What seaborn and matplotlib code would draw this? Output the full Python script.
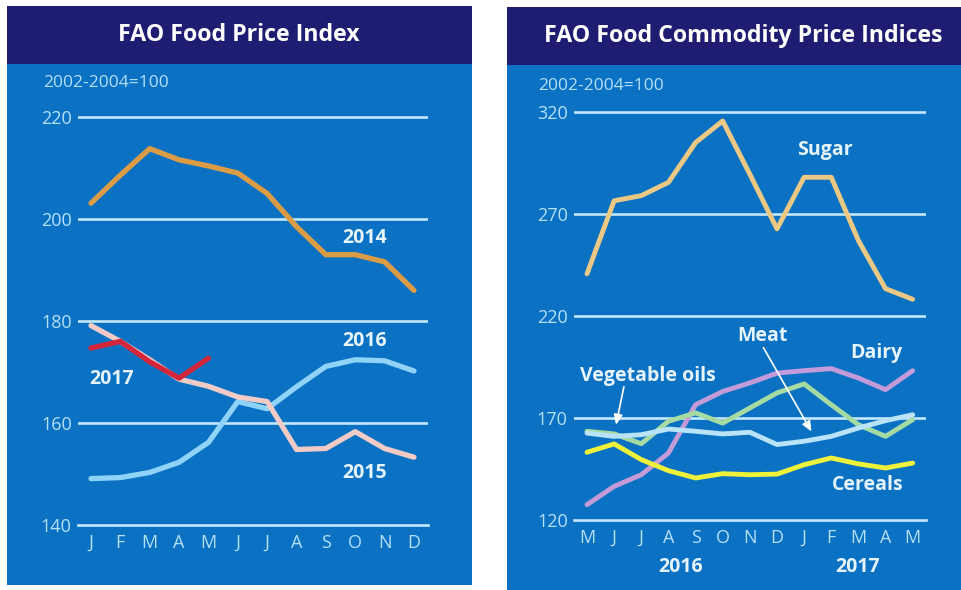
import matplotlib
matplotlib.use("Agg")
import matplotlib.pyplot as plt
from matplotlib.patches import Rectangle
import numpy as np
import pandas as pd
import seaborn as sns

# ---------------- data ----------------
months_left = ["J", "F", "M", "A", "M", "J", "J", "A", "S", "O", "N", "D"]
fpi_2014 = [203.1, 208.6, 213.8, 211.6, 210.4, 209.0, 205.0, 198.5, 193.0, 193.0, 191.6, 186.0]
fpi_2015 = [179.1, 176.0, 172.4, 168.6, 167.2, 165.1, 164.2, 154.8, 155.0, 158.3, 155.0, 153.3]
fpi_2016 = [149.1, 149.3, 150.3, 152.3, 156.2, 164.2, 162.8, 167.1, 171.1, 172.4, 172.2, 170.2]
fpi_2017 = [174.7, 176.0, 172.0, 168.8, 172.7]

months_right = ["M", "J", "J", "A", "S", "O", "N", "D", "J", "F", "M", "A", "M"]
sugar = [240.7, 276.5, 279.0, 285.5, 305.0, 315.6, 289.5, 262.7, 288.0, 288.0, 257.0, 233.4, 228.2]
dairy = [127.5, 136.5, 142.2, 152.8, 176.5, 183.0, 187.2, 192.0, 193.2, 194.2, 189.6, 183.9, 193.2]
meat = [163.5, 162.2, 157.4, 168.4, 172.5, 167.5, 174.9, 182.3, 186.7, 176.5, 166.7, 161.0, 169.2]
veg_oils = [162.6, 161.0, 161.8, 164.6, 163.5, 162.2, 163.0, 157.0, 158.6, 161.0, 165.1, 168.7, 171.6]
cereals = [153.2, 157.3, 149.6, 144.2, 140.6, 142.7, 142.2, 142.5, 147.1, 150.4, 147.5, 145.5, 147.9]

left_yticks = [140, 160, 180, 200, 220]
right_yticks = [120, 170, 220, 270, 320]

# ---------------- style ----------------
sns.set_theme(style="white")
plt.rcParams["font.family"] = ["Open Sans", "DejaVu Sans"]

BLUE = "#0b71c3"
NAVY = "#1f1d72"
GRID = "#c4e8fb"
LAB = "#b4e0f8"
TXT = "#e6f5fd"

W, H = 961, 590
fig = plt.figure(figsize=(W / 100, H / 100), dpi=100)
fig.patch.set_facecolor("white")


def fx(px):
    return px / W


def fy(py):
    return 1 - py / H


def rect(x0, y0, x1, y1, color):
    fig.add_artist(Rectangle((fx(x0), fy(y1)), fx(x1) - fx(x0), (y1 - y0) / H,
                             transform=fig.transFigure, facecolor=color,
                             edgecolor="none", zorder=0))


# panels
rect(7, 6, 472, 585, BLUE)
rect(7, 6, 472, 64, NAVY)
rect(507, 7, 961, 590, BLUE)
rect(507, 7, 961, 65, NAVY)

fig.text(fx(239), fy(35), "FAO Food Price Index", ha="center", va="center",
         fontsize=16.7, fontweight="bold", color="white")
fig.text(fx(743), fy(36), "FAO Food Commodity Price Indices", ha="center", va="center",
         fontsize=16.7, fontweight="bold", color="white")
fig.text(fx(43), fy(83), "2002-2004=100", ha="left", va="center", fontsize=12.5, color=LAB)
fig.text(fx(538), fy(86), "2002-2004=100", ha="left", va="center", fontsize=12.5, color=LAB)


def make_axes(x0, x1, ytop, ybase, first_px, step_px, ybot_val, px_per_unit):
    ax = fig.add_axes([fx(x0), fy(ybase), (x1 - x0) / W, (ybase - ytop) / H])
    ax.set_facecolor("none")
    ax.set_xlim((x0 - first_px) / step_px, (x1 - first_px) / step_px)
    ax.set_ylim(ybot_val, ybot_val + (ybase - ytop) / px_per_unit)
    for s in ["top", "right", "left"]:
        ax.spines[s].set_visible(False)
    ax.spines["bottom"].set_color(GRID)
    ax.spines["bottom"].set_linewidth(1.9)
    ax.grid(False)
    return ax


# ---------------- left panel ----------------
axL = make_axes(78, 428, 100, 525, 91, 29.36, 140, 5.1)
rows = []
for name, vals in [("2014", fpi_2014), ("2016", fpi_2016), ("2015", fpi_2015), ("2017", fpi_2017)]:
    for i, v in enumerate(vals):
        rows.append({"series": name, "month": i, "value": v})
dfL = pd.DataFrame(rows)
palL = {"2014": "#dc9c45", "2015": "#f2cbc6", "2016": "#8fd4f8", "2017": "#d3263a"}
for y in left_yticks[1:]:
    axL.axhline(y, color=GRID, lw=1.9, zorder=1)
sns.lineplot(data=dfL, x="month", y="value", hue="series",
             hue_order=["2014", "2016", "2015", "2017"], palette=palL,
             linewidth=3.8, legend=False, ax=axL, zorder=3)
axL.set_xticks(range(len(months_left)))
axL.set_xticklabels(months_left)
axL.set_yticks(left_yticks)
axL.tick_params(axis="x", direction="in", length=6, width=1.6, color=GRID,
                labelcolor=LAB, labelsize=13, pad=6.5)
axL.tick_params(axis="y", length=0, labelcolor=LAB, labelsize=13, pad=4.5)
axL.set_xlabel("")
axL.set_ylabel("")
lkw = dict(ha="center", va="center", fontsize=14, fontweight="bold", color=TXT)
axL.text(9.32, 196.3, "2014", **lkw)
axL.text(9.32, 176.1, "2016", **lkw)
axL.text(0.70, 168.6, "2017", **lkw)
axL.text(9.32, 150.1, "2015", **lkw)

# ---------------- right panel ----------------
axR = make_axes(574, 926, 100, 520, 587, 27.14, 120, 2.04)
rows = []
for name, vals in [("Dairy", dairy), ("Meat", meat), ("Vegetable oils", veg_oils),
                   ("Cereals", cereals), ("Sugar", sugar)]:
    for i, v in enumerate(vals):
        rows.append({"series": name, "month": i, "value": v})
dfR = pd.DataFrame(rows)
palR = {"Dairy": "#c39bd9", "Meat": "#a5dba3", "Vegetable oils": "#b8e3f8",
        "Cereals": "#eef23a", "Sugar": "#ebc883"}
for y in right_yticks[1:]:
    axR.axhline(y, color=GRID, lw=1.9, zorder=1)
sns.lineplot(data=dfR, x="month", y="value", hue="series",
             hue_order=["Dairy", "Meat", "Vegetable oils", "Cereals", "Sugar"],
             palette=palR, linewidth=3.5, legend=False, ax=axR, zorder=3)
axR.set_xticks(range(len(months_right)))
axR.set_xticklabels(months_right)
axR.set_yticks(right_yticks)
axR.tick_params(axis="x", direction="in", length=6, width=1.6, color=GRID,
                labelcolor=LAB, labelsize=13, pad=6.5)
axR.tick_params(axis="y", length=0, labelcolor=LAB, labelsize=13, pad=4.5)
axR.set_xlabel("")
axR.set_ylabel("")
axR.text(8.76, 301.4, "Sugar", **lkw)
axR.text(10.67, 202.0, "Dairy", **lkw)
axR.text(10.36, 137.3, "Cereals", **lkw)
axR.text(6.48, 210.0, "Meat", **lkw)
axR.text(2.26, 190.7, "Vegetable oils", **lkw)
akw = dict(arrowstyle="-|>,head_length=0.5,head_width=0.22", color="white", lw=1.2,
           shrinkA=0, shrinkB=0)
axR.annotate("", xy=(8.27, 163.4), xytext=(6.50, 204.5), arrowprops=akw, zorder=5)
axR.annotate("", xy=(1.07, 166.7), xytext=(1.36, 185.3), arrowprops=akw, zorder=5)
fig.text(fx(681), fy(567), "2016", ha="center", va="center", fontsize=14,
         fontweight="bold", color=TXT)
fig.text(fx(858), fy(567), "2017", ha="center", va="center", fontsize=14,
         fontweight="bold", color=TXT)

fig.savefig("out.png", dpi=100, facecolor="white")
